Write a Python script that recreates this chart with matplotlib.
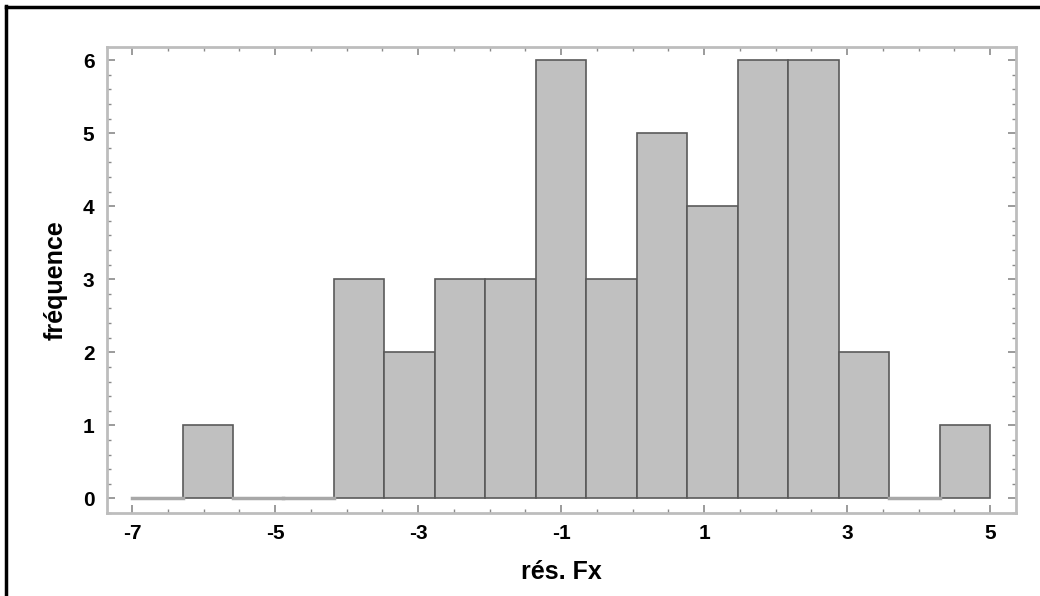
import numpy as np
import matplotlib.pyplot as plt
from matplotlib.ticker import MultipleLocator
from matplotlib.lines import Line2D

# Données de l'histogramme (17 classes de -7 à 5)
bin_edges = np.linspace(-7, 5, 18)
counts = [0, 1, 0, 0, 3, 2, 3, 3, 6, 3, 5, 4, 6, 6, 2, 0, 1]
x_ticks = [-7, -5, -3, -1, 1, 3, 5]
y_ticks = [0, 1, 2, 3, 4, 5, 6]

plt.rcParams['font.family'] = ['Liberation Sans', 'DejaVu Sans']
plt.rcParams['axes.unicode_minus'] = False

fig = plt.figure(figsize=(10.4, 5.96), dpi=100)
ax = fig.add_axes([107 / 1040, 1 - 513 / 596, (1016 - 107) / 1040, (513 - 47) / 596])

widths = np.diff(bin_edges)
ax.bar(bin_edges[:-1], counts, width=widths, align='edge',
       color='#c0c0c0', edgecolor='#5a5a5a', linewidth=1.2)

# ligne de base grise pour les classes vides
for left, w, c in zip(bin_edges[:-1], widths, counts):
    if c == 0:
        ax.plot([left, left + w], [0, 0], color='#a8a8a8', linewidth=2.5)

ax.set_xlim(-7.35, 5.36)
ax.set_ylim(-0.2, 6.18)
ax.set_xticks(x_ticks)
ax.set_yticks(y_ticks)
ax.xaxis.set_minor_locator(MultipleLocator(0.5))
ax.yaxis.set_minor_locator(MultipleLocator(0.2))
ax.tick_params(which='both', direction='in', top=True, right=True,
               color='#8a8a8a', labelsize=15)
ax.tick_params(axis='x', pad=8)
ax.tick_params(axis='y', pad=9)
ax.tick_params(which='major', length=6, width=1.2)
ax.tick_params(which='minor', length=3, width=1)
for lab in ax.get_xticklabels() + ax.get_yticklabels():
    lab.set_fontweight('bold')

for s in ax.spines.values():
    s.set_color('#bdbdbd')
    s.set_linewidth(2)

ax.set_xlabel('rés. Fx', fontsize=18, fontweight='bold', labelpad=12)
ax.set_ylabel('fréquence', fontsize=18, fontweight='bold', labelpad=11)

# cadre noir (bords gauche et haut)
fig.add_artist(Line2D([6 / 1040, 6 / 1040], [0, 1 - 6 / 596], color='black', linewidth=2.5))
fig.add_artist(Line2D([6 / 1040, 1], [1 - 7 / 596, 1 - 7 / 596], color='black', linewidth=2.5))

fig.savefig('out.png', dpi=100)
